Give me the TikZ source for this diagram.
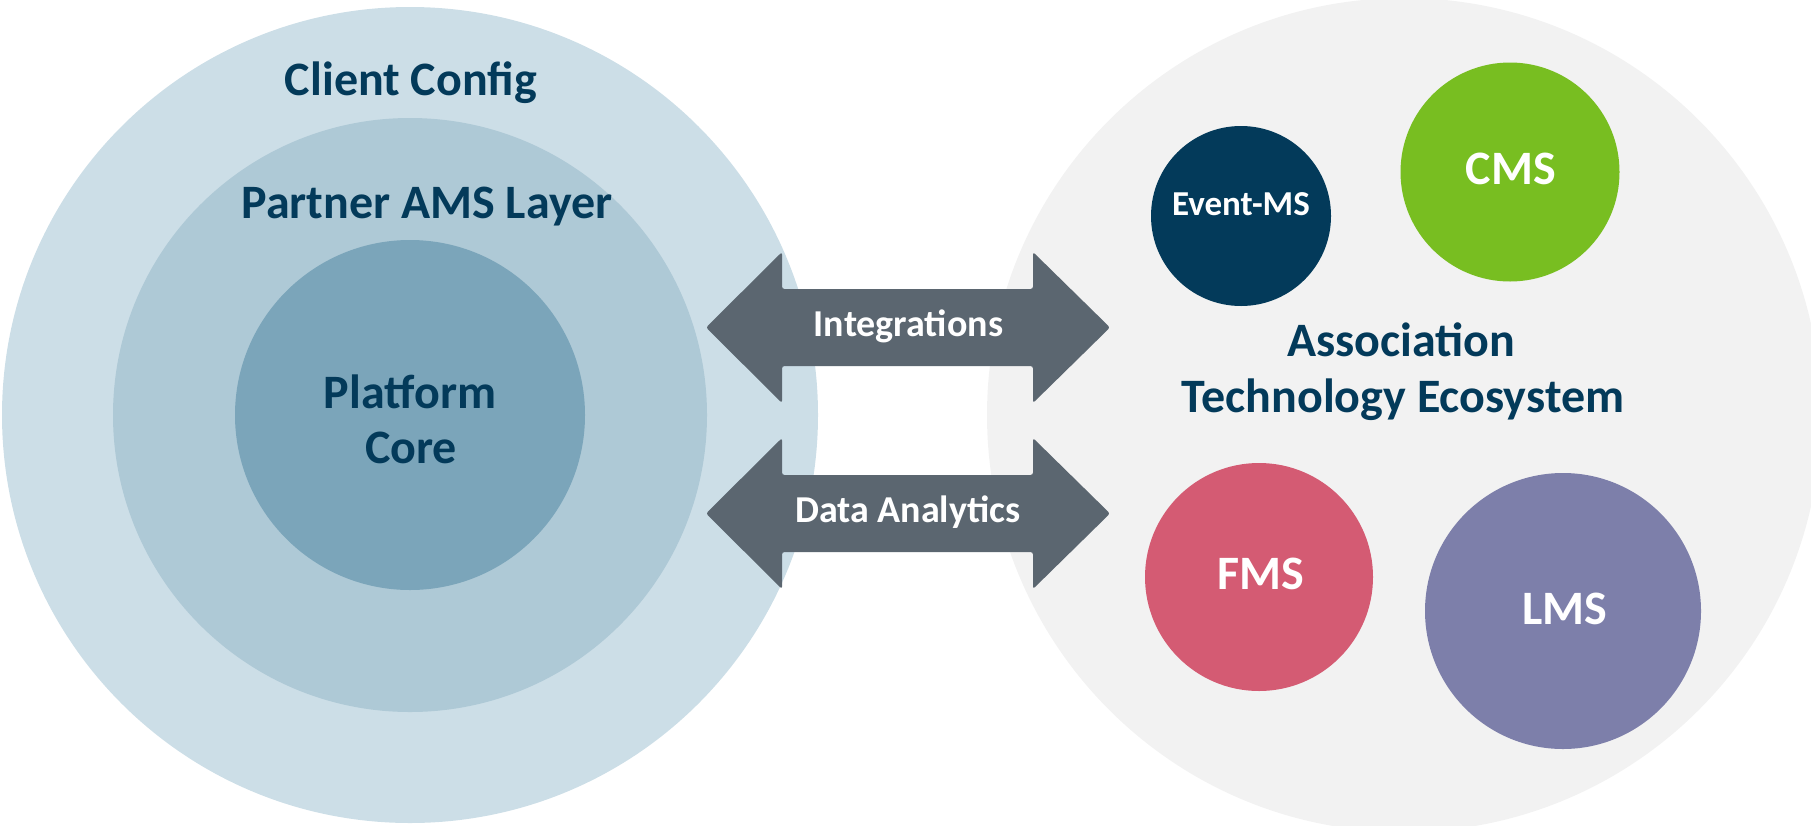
\documentclass[tikz,border=0pt]{standalone}
\usepackage{fontspec}
\setmainfont{Carlito}
\definecolor{ringout}{HTML}{CCDEE7}
\definecolor{ringmid}{HTML}{AEC9D6}
\definecolor{ringin}{HTML}{7BA5BA}
\definecolor{navy}{HTML}{033A5A}
\definecolor{ecobg}{HTML}{F2F2F2}
\definecolor{arrowc}{HTML}{5B6670}
\definecolor{cmsc}{HTML}{78BE21}
\definecolor{fmsc}{HTML}{D45B73}
\definecolor{lmsc}{HTML}{7D7FAA}
\begin{document}
\begin{tikzpicture}[x=1pt,y=-1pt,
  disc/.style={circle, draw=none, inner sep=0pt, outer sep=0pt, minimum size=#1},
  biglbl/.style={font=\bfseries\fontsize{48}{50}\selectfont, text=navy, anchor=base, inner sep=0pt},
  whitelbl/.style={font=\bfseries\fontsize{#1}{50}\selectfont, text=white, anchor=base, inner sep=0pt},
  arrowshape/.style={fill=arrowc, draw=none, rounded corners=2.5pt}
]
\useasboundingbox (0,0) rectangle (1811,825);
\clip (0,0) rectangle (1811,825);

% left rings
\node[disc=816pt, fill=ringout] (client) at (410,415) {};
\node[disc=594pt, fill=ringmid] (partner) at (410,415) {};
\node[disc=350pt, fill=ringin] (core) at (410,415) {};

% right ecosystem
\node[disc=834pt, fill=ecobg] (eco) at (1404,415) {};
\node[disc=180pt, fill=navy] (event) at (1241,216) {};
\node[disc=219pt, fill=cmsc] (cms) at (1510,172) {};
\node[disc=228pt, fill=fmsc] (fms) at (1259,577) {};
\node[disc=276pt, fill=lmsc] (lms) at (1563,611) {};

% double arrows
\foreach \yy/\nm in {327.5/intarrow, 513.5/dataarrow}{
  \path[arrowshape] (706,\yy) -- (782,\yy-75.5) -- (782,\yy-38.5) -- (1033,\yy-38.5)
    -- (1033,\yy-75.5) -- (1110,\yy) -- (1033,\yy+75.5) -- (1033,\yy+38.5)
    -- (782,\yy+38.5) -- (782,\yy+75.5) -- cycle;
}

% labels
\node[biglbl] (clientlbl) at (411,95) {Client Config};
\node[biglbl] (partnerlbl) at (427,218) {Partner AMS Layer};
\node[biglbl] (corelbl1) at (410,408) {Platform};
\node[biglbl] (corelbl2) at (411,463) {Core};
\node[biglbl] (ecolbl1) at (1401,356) {Association};
\node[biglbl] (ecolbl2) at (1403,412) {Technology Ecosystem};

\node[whitelbl=38] (intlbl) at (908.5,336) {Integrations};
\node[whitelbl=38] (datalbl) at (908,522) {Data Analytics};

\node[whitelbl=35] (eventlbl) at (1241,215) {Event-MS};
\node[whitelbl=48] (cmslbl) at (1511,184) {CMS};
\node[whitelbl=48] (fmslbl) at (1261,589) {FMS};
\node[whitelbl=48] (lmslbl) at (1565,624) {LMS};
\end{tikzpicture}
\end{document}
